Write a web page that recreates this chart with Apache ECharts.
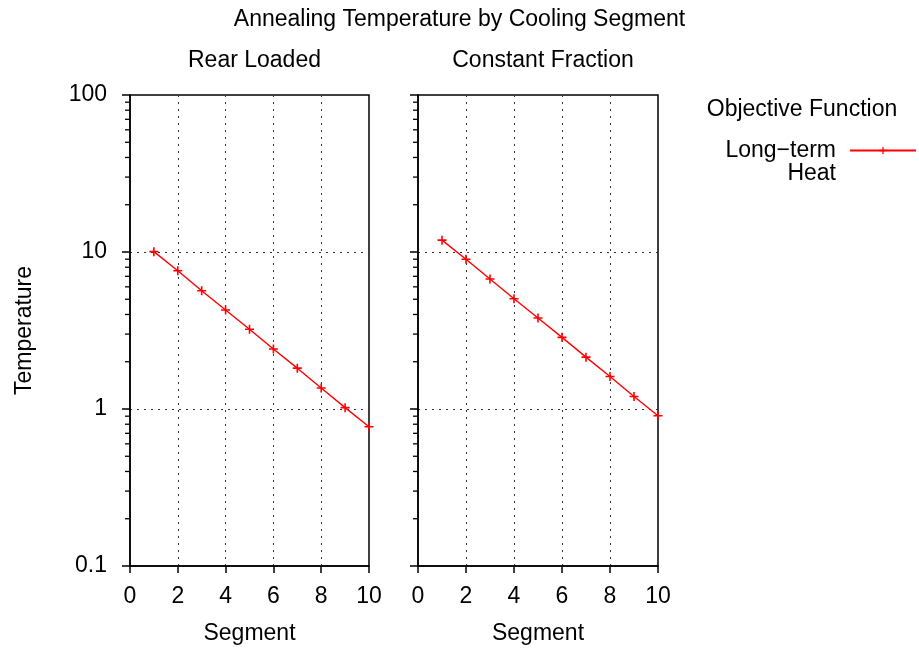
<!DOCTYPE html>
<html>
<head>
<meta charset="utf-8">
<script src="https://cdn.jsdelivr.net/npm/echarts@6/dist/echarts.min.js"></script>
<style>
  html, body { margin: 0; padding: 0; background: #fff; }
  #chart { width: 919px; height: 651px; }
</style>
</head>
<body>
<div id="chart"></div>
<script>
// Cooling segments (x) and temperatures per schedule (log y)
const segments = [1, 2, 3, 4, 5, 6, 7, 8, 9, 10];
const rearLoaded = [10.05, 7.6, 5.67, 4.27, 3.22, 2.41, 1.82, 1.36, 1.02, 0.77];
const constantFraction = [11.9, 9.0, 6.73, 5.04, 3.80, 2.86, 2.14, 1.61, 1.20, 0.906];

const panelTitles = ['Rear Loaded', 'Constant Fraction'];
const seriesName = 'Long\u2212term\nHeat';
const legendTitle = 'Objective Function';

// Log-axis minor tick positions (2..9 in every decade)
const minorTickValues = [0.2, 0.3, 0.4, 0.5, 0.6, 0.7, 0.8, 0.9,
                         2, 3, 4, 5, 6, 7, 8, 9,
                         20, 30, 40, 50, 60, 70, 80, 90];

const FONT = 'Liberation Sans, Arial, Helvetica, sans-serif';
const FS = 23;
const RED = '#ff0000';
const PLUS = 'path://M3.7,0H5.3V3.7H9V5.3H5.3V9H3.7V5.3H0V3.7H3.7Z';

const grids = [
  { left: 130, top: 95, width: 239, height: 471 },
  { left: 418, top: 95, width: 240, height: 471 }
];

const gridLine = { show: true, lineStyle: { color: '#333', width: 1, type: [2, 5] }, showMinLine: false, showMaxLine: false };

function xAxis(i) {
  return {
    type: 'value', gridIndex: i, min: 0, max: 10, interval: 2,
    name: 'Segment', nameLocation: 'middle', nameGap: 56,
    nameTextStyle: { fontFamily: FONT, fontSize: FS, color: '#000' },
    axisLine: { show: true, onZero: false, lineStyle: { color: '#000', width: 1.5 } },
    axisTick: { show: true, inside: false, length: 7, lineStyle: { color: '#000', width: 1.5 } },
    axisLabel: { margin: 19, fontFamily: FONT, fontSize: FS, color: '#000' },
    splitLine: gridLine
  };
}

function yAxis(i) {
  return {
    type: 'log', logBase: 10, gridIndex: i, min: 0.1, max: 100,
    name: i === 0 ? 'Temperature' : '', nameLocation: 'middle', nameGap: 94,
    nameTextStyle: { fontFamily: FONT, fontSize: FS, color: '#000' },
    axisLine: { show: true, onZero: false, lineStyle: { color: '#000', width: 1.5 } },
    axisTick: { show: true, inside: false, length: 8, lineStyle: { color: '#000', width: 1.5 } },
    axisLabel: {
      show: i === 0, margin: 23, fontFamily: FONT, fontSize: FS, color: '#000',
      formatter: v => String(v)
    },
    splitLine: gridLine
  };
}

function dataSeries(i, values) {
  return {
    type: 'line', name: seriesName, xAxisIndex: i, yAxisIndex: i,
    data: segments.map((s, k) => [s, values[k]]),
    symbol: PLUS, symbolSize: 9, showSymbol: true,
    lineStyle: { color: RED, width: 1.4 },
    itemStyle: { color: RED },
    clip: false, z: 5, animation: false
  };
}

function minorTickSeries(i) {
  return {
    type: 'custom', xAxisIndex: i, yAxisIndex: i, silent: true, clip: false, z: 6,
    data: minorTickValues.map(v => [0, v]),
    renderItem: (params, api) => {
      const p = api.coord([api.value(0), api.value(1)]);
      return {
        type: 'line',
        shape: { x1: p[0] - 5, y1: p[1], x2: p[0], y2: p[1] },
        style: { stroke: '#000', lineWidth: 1.3 }
      };
    },
    animation: false
  };
}

const titleStyle = { fontFamily: FONT, fontSize: FS, fontWeight: 'normal', color: '#000' };

const option = {
  backgroundColor: '#fff',
  animation: false,
  title: [
    { text: 'Annealing Temperature by Cooling Segment', left: 'center', top: 3, textStyle: titleStyle },
    { text: panelTitles[0], left: 249.5, textAlign: 'center', top: 44, textStyle: titleStyle },
    { text: panelTitles[1], left: 538, textAlign: 'center', top: 44, textStyle: titleStyle },
    { text: legendTitle, left: 797, textAlign: 'center', top: 93, textStyle: titleStyle }
  ],
  grid: grids.map(g => Object.assign({ show: true, borderColor: '#000', borderWidth: 1.5, backgroundColor: 'transparent' }, g)),
  xAxis: [xAxis(0), xAxis(1)],
  yAxis: [yAxis(0), yAxis(1)],
  legend: {
    data: [seriesName],
    right: 2, top: 116, padding: 0, orient: 'vertical', align: 'right',
    itemWidth: 66, itemHeight: 9,
    // leading blank line keeps the first label line level with the key line
    formatter: name => '\n' + name,
    textStyle: {
      fontFamily: FONT, fontSize: FS, color: '#000', lineHeight: 23,
      padding: [0, 9, 0, 0]
    },
    selectedMode: false
  },
  series: [
    dataSeries(0, rearLoaded),
    dataSeries(1, constantFraction),
    minorTickSeries(0),
    minorTickSeries(1)
  ]
};

const chart = echarts.init(document.getElementById('chart'), null, { renderer: 'canvas' });
chart.setOption(option);
</script>
</body>
</html>
